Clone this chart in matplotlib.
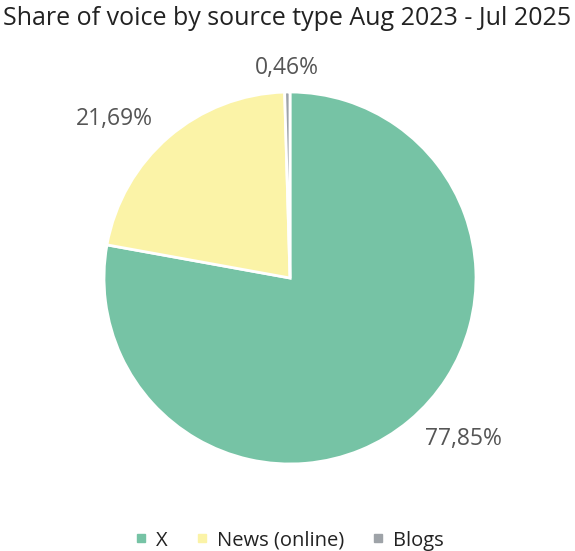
import matplotlib
matplotlib.use("Agg")
import matplotlib.pyplot as plt
from matplotlib.lines import Line2D

sources = ["X", "News (online)", "Blogs"]
shares = [77.85, 21.69, 0.46]
colors = ["#76c3a5", "#fbf3a7", "#9ea3a8"]

plt.rcParams['font.family'] = ['Open Sans', 'DejaVu Sans']

fig = plt.figure(figsize=(5.75, 5.51), dpi=100)
# pie centred at (290, 278) px with radius 186 px
ax = fig.add_axes([(290 - 186) / 575, (551 - 278 - 186) / 551, 372 / 575, 372 / 551])

labels = [f"{v:.2f}%".replace(".", ",") for v in shares]
wedges, texts = ax.pie(shares, colors=colors, startangle=90, counterclock=False,
                       labels=labels, labeldistance=1.13,
                       wedgeprops=dict(edgecolor="white", linewidth=2),
                       textprops=dict(fontsize=16.5, color="#555555"))
# the tiny slice sits at the top, centre its label
texts[2].set_horizontalalignment("center")
ax.set_xlim(-1.0, 1.0)
ax.set_ylim(-1.0, 1.0)

fig.suptitle("Share of voice by source type Aug 2023 - Jul 2025", fontsize=18,
             color="#222222", y=0.99, va="top")

handles = [Line2D([], [], marker="s", linestyle="none", markersize=6,
                  markerfacecolor=c, markeredgecolor=c) for c in colors]
fig.legend(handles, sources, loc="lower center", ncol=3, frameon=False,
           bbox_to_anchor=(0.5, -0.032), fontsize=14.5, handletextpad=0.25,
           handlelength=1.0, columnspacing=1.2, labelcolor="#222222")

fig.savefig("out.png", dpi=100)
